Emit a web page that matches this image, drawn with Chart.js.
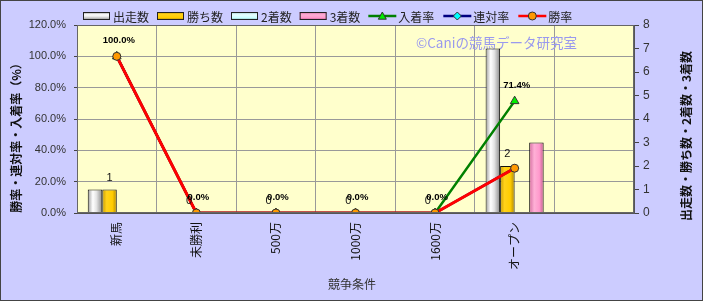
<!DOCTYPE html>
<html>
<head>
<meta charset="utf-8">
<script src="https://cdn.jsdelivr.net/npm/chart.js@4"></script>
<style>
  html, body { margin: 0; padding: 0; background: #ccccff; }
  #wrap { width: 703px; height: 301px; }
</style>
</head>
<body>
<div id="wrap"><canvas id="chart" width="703" height="301"></canvas></div>
<script>
    // 競争条件
    const categories = ['新馬', '未勝利', '500万', '1000万', '1600万', 'オープン', ''];

    // 頭数（右軸）
    const runs = [1, 0, 0, 0, 0, 7, null];
    const wins = [1, 0, 0, 0, 0, 2, null];
    const seconds = [0, 0, 0, 0, 0, 0, null];
    const thirds = [0, 0, 0, 0, 0, 3, null];

    // 率（左軸, %）
    const placeRate = [100, 0, 0, 0, 0, 71.4, null];
    const rentaiRate = [100, 0, 0, 0, 0, 28.6, null];
    const winRate = [100, 0, 0, 0, 0, 28.6, null];

    const pctTicks = [0, 20, 40, 60, 80, 100, 120];
    const countTicks = [0, 1, 2, 3, 4, 5, 6, 7, 8];

    const JP = '"Noto Sans CJK JP", "Noto Sans", sans-serif';
    const CAT_PCT = 0.73;

    // 円柱っぽいグラデーション
    function barFill(slot, stops, flat) {
        return function (ctx) {
            const chart = ctx.chart;
            const xs = chart.scales.x;
            if (!xs || !chart.chartArea || ctx.dataIndex === undefined) return flat;
            const c = xs.getPixelForValue(ctx.dataIndex);
            const bw = (xs.width / categories.length) * CAT_PCT / 4;
            const left = c - 2 * bw + slot * bw;
            const g = chart.ctx.createLinearGradient(left, 0, left + bw, 0);
            stops.forEach(s => g.addColorStop(s[0], s[1]));
            return g;
        };
    }

    const greyStops = [[0, '#9a9a9a'], [0.35, '#ffffff'], [0.6, '#e4e4e4'], [1, '#8a8a8a']];
    const goldStops = [[0, '#c89a00'], [0.3, '#ffd21a'], [0.7, '#ffcc00'], [1, '#b08800']];
    const cyanStops = [[0, '#99cccc'], [0.35, '#eaffff'], [0.7, '#ccffff'], [1, '#88bbbb']];
    const pinkStops = [[0, '#d46a9e'], [0.35, '#ffb0d6'], [0.7, '#ff99cc'], [1, '#c45c90']];

    const legendItems = [
        { text: '出走数', type: 'bar', stops: greyStops },
        { text: '勝ち数', type: 'bar', stops: goldStops },
        { text: '2着数', type: 'bar', stops: cyanStops },
        { text: '3着数', type: 'bar', stops: pinkStops },
        { text: '入着率', type: 'line', color: '#008000', marker: 'triangle', fill: '#00ee00' },
        { text: '連対率', type: 'line', color: '#000080', marker: 'diamond', fill: '#00ffff' },
        { text: '勝率', type: 'line', color: '#ff0000', marker: 'circle', fill: '#ff9900' }
    ];

    function drawMarker(c, kind, x, y, r, fill, stroke) {
        c.beginPath();
        if (kind === 'triangle') {
            c.moveTo(x, y - r);
            c.lineTo(x + r, y + r * 0.8);
            c.lineTo(x - r, y + r * 0.8);
            c.closePath();
        } else if (kind === 'diamond') {
            c.moveTo(x, y - r);
            c.lineTo(x + r, y);
            c.lineTo(x, y + r);
            c.lineTo(x - r, y);
            c.closePath();
        } else {
            c.arc(x, y, r, 0, Math.PI * 2);
        }
        c.fillStyle = fill;
        c.fill();
        c.lineWidth = 1;
        c.strokeStyle = stroke;
        c.stroke();
    }

    const decor = {
        id: 'decor',
        beforeDraw(chart) {
            const c = chart.ctx, a = chart.chartArea;
            c.save();
            c.fillStyle = '#ccccff';
            c.fillRect(0, 0, chart.width, chart.height);
            c.fillStyle = '#ffffcc';
            c.fillRect(a.left, a.top, a.right - a.left, a.bottom - a.top);
            c.restore();
        },
        beforeDatasetsDraw(chart) {
            const c = chart.ctx;
            c.save();
            c.font = '13.5px ' + JP;
            c.fillStyle = '#9999ee';
            c.textAlign = 'left';
            c.textBaseline = 'middle';
            c.fillText('©Caniの競馬データ研究室', 416, 43);
            c.restore();
        },
        afterDatasetsDraw(chart) {
            const c = chart.ctx;
            c.save();
            c.textAlign = 'center';
            c.textBaseline = 'middle';
            // 勝ち数ラベル
            const wm = chart.getDatasetMeta(1);
            c.font = '11px "Liberation Sans", sans-serif';
            c.fillStyle = '#111';
            wins.forEach((v, i) => {
                if (v === null) return;
                const el = wm.data[i];
                c.fillText(String(v), el.x, el.y - 12);
            });
            // 入着率ラベル
            const pm = chart.getDatasetMeta(4);
            c.font = 'bold 9.5px "Liberation Sans", sans-serif';
            c.fillStyle = '#000';
            placeRate.forEach((v, i) => {
                if (v === null) return;
                const el = pm.data[i];
                c.fillText(v.toFixed(1) + '%', el.x + 2, el.y - 16);
            });
            c.restore();
        },
        afterDraw(chart) {
            const c = chart.ctx, a = chart.chartArea;
            c.save();
            // プロット枠
            c.strokeStyle = '#666';
            c.lineWidth = 1;
            c.strokeRect(a.left + 0.5, a.top + 0.5, a.right - a.left - 1, a.bottom - a.top - 1);

            // 凡例
            c.font = '12px ' + JP;
            c.textBaseline = 'middle';
            c.textAlign = 'left';
            let x = 83;
            const y = 16;
            legendItems.forEach(it => {
                if (it.type === 'bar') {
                    const g = c.createLinearGradient(0, y - 4, 0, y + 4);
                    it.stops.forEach(s => g.addColorStop(s[0], s[1]));
                    c.fillStyle = g;
                    c.fillRect(x, y - 4, 27, 8);
                    c.strokeStyle = '#222';
                    c.strokeRect(x + 0.5, y - 3.5, 26, 7);
                    x += 30;
                } else {
                    c.strokeStyle = it.color;
                    c.lineWidth = 2.5;
                    c.beginPath();
                    c.moveTo(x, y);
                    c.lineTo(x + 28, y);
                    c.stroke();
                    drawMarker(c, it.marker, x + 14, y, 4, it.fill, '#333');
                    x += 30;
                }
                c.fillStyle = '#222';
                c.fillText(it.text, x, y + 1);
                x += c.measureText(it.text).width + (it.type === 'bar' ? 8 : 9);
            });

            // 軸タイトル
            c.fillStyle = '#111';
            c.textAlign = 'center';
            c.font = 'bold 12px ' + JP;
            c.save();
            c.translate(16, 135);
            c.rotate(-Math.PI / 2);
            c.fillText('勝率・連対率・入着率（%）', 0, 0);
            c.restore();
            c.save();
            c.translate(686, 136);
            c.rotate(-Math.PI / 2);
            c.fillText('出走数・勝ち数・2着数・3着数', 0, 0);
            c.restore();
            c.font = '12px ' + JP;
            c.fillStyle = '#333';
            c.fillText('競争条件', 352, 284);

            // 外枠
            c.strokeStyle = '#444';
            c.strokeRect(0.5, 0.5, chart.width - 1, chart.height - 1);
            c.restore();
        }
    };

    function barSet(label, data, slot, stops, flat) {
        return {
            type: 'bar',
            label: label,
            data: data,
            yAxisID: 'y1',
            order: 3,
            backgroundColor: barFill(slot, stops, flat),
            borderColor: '#111',
            borderWidth: ctx => (ctx.raw ? 1 : 0),
            barPercentage: 1,
            categoryPercentage: CAT_PCT
        };
    }

    function lineSet(label, data, color, marker, fill, order, r, w) {
        return {
            type: 'line',
            label: label,
            data: data,
            yAxisID: 'y',
            order: order,
            borderColor: color,
            borderWidth: w,
            pointStyle: marker,
            pointRadius: r,
            pointBackgroundColor: fill,
            pointBorderColor: '#333',
            pointBorderWidth: 1,
            tension: 0,
            spanGaps: false
        };
    }

    new Chart(document.getElementById('chart'), {
        data: {
            labels: categories,
            datasets: [
                barSet('出走数', runs, 0, greyStops, '#dddddd'),
                barSet('勝ち数', wins, 1, goldStops, '#ffcc00'),
                barSet('2着数', seconds, 2, cyanStops, '#ccffff'),
                barSet('3着数', thirds, 3, pinkStops, '#ff99cc'),
                lineSet('入着率', placeRate, '#008000', 'triangle', '#00ee00', 2, 5, 2.5),
                lineSet('連対率', rentaiRate, '#000080', 'rectRot', '#00ffff', 1, 4, 2.5),
                lineSet('勝率', winRate, '#ff0000', 'circle', '#ff9900', 0, 4, 3)
            ]
        },
        options: {
            responsive: false,
            animation: false,
            events: [],
            layout: { padding: { top: 25, left: 0, right: 0, bottom: 0 } },
            plugins: {
                legend: { display: false },
                tooltip: { enabled: false }
            },
            scales: {
                x: {
                    type: 'category',
                    offset: true,
                    afterFit: s => { s.height = 88; },
                    grid: {
                        offset: true,
                        color: '#999',
                        borderDash: [1, 2],
                        drawTicks: false
                    },
                    border: { color: '#555', dash: [] },
                    ticks: {
                        minRotation: 90,
                        maxRotation: 90,
                        padding: 9,
                        autoSkip: false,
                        color: '#111',
                        font: { family: JP, size: 12 }
                    }
                },
                y: {
                    position: 'left',
                    min: 0,
                    max: 120,
                    afterFit: s => { s.width = 77; },
                    afterBuildTicks: s => { s.ticks = pctTicks.map(v => ({ value: v })); },
                    grid: {
                        color: '#999',
                        borderDash: [1, 2],
                        tickLength: 3,
                        tickColor: '#444',
                        tickBorderDash: []
                    },
                    border: { color: '#555' },
                    ticks: {
                        padding: 8,
                        color: '#333',
                        font: { family: '"Liberation Sans", sans-serif', size: 11 },
                        callback: v => Number(v).toFixed(1) + '%'
                    }
                },
                y1: {
                    position: 'right',
                    min: 0,
                    max: 8,
                    afterFit: s => { s.width = 69; },
                    afterBuildTicks: s => { s.ticks = countTicks.map(v => ({ value: v })); },
                    grid: {
                        drawOnChartArea: false,
                        tickLength: 5,
                        tickColor: '#444'
                    },
                    border: { color: '#555' },
                    ticks: {
                        padding: 4,
                        color: '#333',
                        font: { family: '"Liberation Sans", sans-serif', size: 12 }
                    }
                }
            }
        },
        plugins: [decor]
    });
</script>
</body>
</html>
